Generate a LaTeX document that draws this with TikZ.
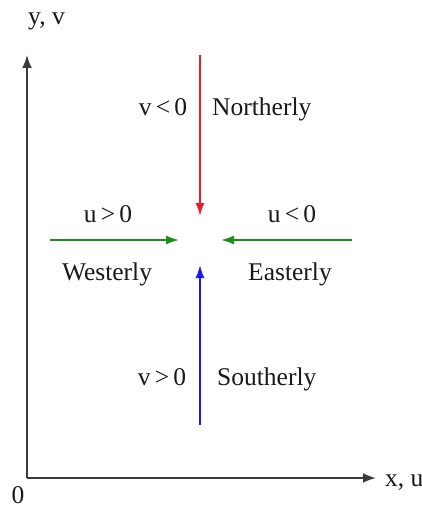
\documentclass[tikz,border=0pt]{standalone}
\usepackage{fontspec}
\setmainfont{Liberation Serif}
\usetikzlibrary{arrows.meta}
\definecolor{nred}{RGB}{235,30,40}
\definecolor{ngreen}{RGB}{30,140,30}
\definecolor{nblue}{RGB}{25,25,235}
\definecolor{axisgray}{RGB}{60,60,60}
\tikzset{
  lbl/.style={inner sep=0pt, font=\fontsize{25.5}{30}\selectfont, text=black!90},
  axisline/.style={draw=axisgray, line width=2pt, -{Latex[length=13pt,width=10pt]}},
  wind/.style={line width=1.7pt, -{Latex[length=13pt,width=9pt]}}
}
\begin{document}
\begin{tikzpicture}[x=1pt,y=-1pt]
\useasboundingbox (0,0) rectangle (422,508);
% axes
\coordinate (origin) at (27,478);
\coordinate (ytip) at (27,55);
\coordinate (xtip) at (376,478);
\draw[axisline] (origin) -- (ytip);
\draw[axisline] (origin) -- (xtip);
\node[lbl, anchor=base west] (ylab) at (28,25) {y, v};
\node[lbl, anchor=base west] (xlab) at (385,486) {x, u};
\node[lbl, anchor=base] (zero) at (18,503) {0};
% wind arrows
\coordinate (ntop) at (200,55);
\coordinate (ntip) at (200,216);
\coordinate (sbot) at (200,425);
\coordinate (stip) at (200,265);
\coordinate (wstart) at (50,240);
\coordinate (wtip) at (179,240);
\coordinate (estart) at (352,240);
\coordinate (etip) at (221,240);
\draw[wind, nred] (ntop) -- (ntip);
\draw[wind, nblue] (sbot) -- (stip);
\draw[wind, ngreen] (wstart) -- (wtip);
\draw[wind, ngreen] (estart) -- (etip);
% labels
\node[lbl, anchor=base] (vneg) at (163,115) {v\,<\,0};
\node[lbl, anchor=base west] (north) at (212,115) {Northerly};
\node[lbl, anchor=base] (upos) at (108,222) {u\,>\,0};
\node[lbl, anchor=base] (uneg) at (292,222) {u\,<\,0};
\node[lbl, anchor=base] (west) at (107,280) {Westerly};
\node[lbl, anchor=base] (east) at (290,280) {Easterly};
\node[lbl, anchor=base] (vpos) at (162,385) {v\,>\,0};
\node[lbl, anchor=base west] (south) at (217,385) {Southerly};
\end{tikzpicture}
\end{document}
